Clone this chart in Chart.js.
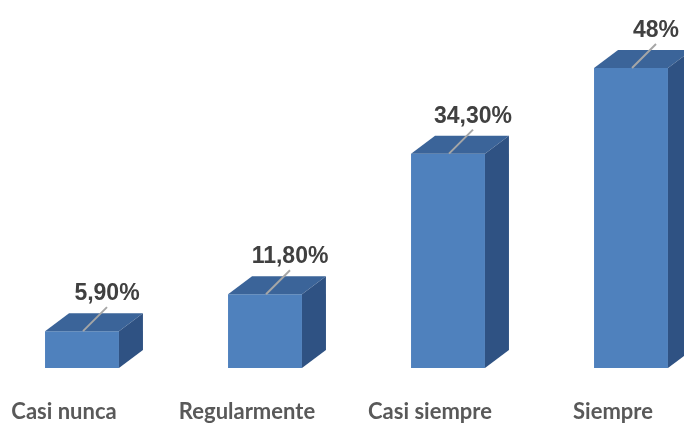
<!DOCTYPE html>
<html>
<head>
<meta charset="utf-8">
<script src="https://cdn.jsdelivr.net/npm/chart.js@4"></script>
<style>
  html, body { margin: 0; padding: 0; background: #fff; }
  #wrap { width: 684px; height: 424px; }
</style>
</head>
<body>
<div id="wrap"><canvas id="chart"></canvas></div>
<script>
const categories = ['Casi nunca', 'Regularmente', 'Casi siempre', 'Siempre'];
const values = [5.9, 11.8, 34.3, 48];
const valueTexts = ['5,90%', '11,80%', '34,30%', '48%'];

// 3d look: top and side faces, leader lines, value labels and category labels
const boxPlugin = {
  id: 'box3d',
  afterDatasetsDraw(chart) {
    const ctx = chart.ctx;
    const meta = chart.getDatasetMeta(0);
    const xScale = chart.scales.x;
    const dx = 24, dy = 18;
    meta.data.forEach((bar, i) => {
      const left = bar.x - bar.width / 2;
      const right = bar.x + bar.width / 2;
      const top = bar.y;
      const base = bar.base;
      ctx.save();
      // top face
      ctx.fillStyle = '#3B6499';
      ctx.beginPath();
      ctx.moveTo(left, top);
      ctx.lineTo(left + dx, top - dy);
      ctx.lineTo(right + dx, top - dy);
      ctx.lineTo(right, top);
      ctx.closePath();
      ctx.fill();
      // side face
      ctx.fillStyle = '#2F5283';
      ctx.beginPath();
      ctx.moveTo(right, top);
      ctx.lineTo(right + dx, top - dy);
      ctx.lineTo(right + dx, base - dy);
      ctx.lineTo(right, base);
      ctx.closePath();
      ctx.fill();
      // leader line
      const ex = bar.x + 25, ey = top - 24;
      ctx.strokeStyle = '#A6A6A6';
      ctx.lineWidth = 2;
      ctx.beginPath();
      ctx.moveTo(bar.x + 1, top);
      ctx.lineTo(ex, ey);
      ctx.stroke();
      // value label
      ctx.fillStyle = '#404040';
      ctx.font = 'bold 23px "Liberation Sans", Arial, sans-serif';
      ctx.textAlign = 'center';
      ctx.textBaseline = 'alphabetic';
      ctx.fillText(valueTexts[i], ex, ey - 7);
      // category label
      ctx.fillStyle = '#595959';
      ctx.font = 'bold 22px Lato, sans-serif';
      ctx.fillText(categories[i], xScale.getPixelForValue(i) - 18, 419);
      ctx.restore();
    });
  }
};

new Chart(document.getElementById('chart').getContext('2d'), {
  type: 'bar',
  data: {
    labels: categories,
    datasets: [{
      data: values,
      backgroundColor: '#4F81BD',
      borderWidth: 0,
      barPercentage: 0.404,
      categoryPercentage: 1,
      clip: false
    }]
  },
  options: {
    responsive: true,
    maintainAspectRatio: false,
    animation: false,
    layout: { padding: { left: 82, right: 53, top: 55.5, bottom: 56 } },
    scales: {
      x: {
        display: false,
        offset: false
      },
      y: {
        display: false,
        min: 0,
        max: 50
      }
    },
    plugins: {
      legend: { display: false },
      title: { display: false },
      tooltip: { enabled: false }
    }
  },
  plugins: [boxPlugin]
});
</script>
</body>
</html>
